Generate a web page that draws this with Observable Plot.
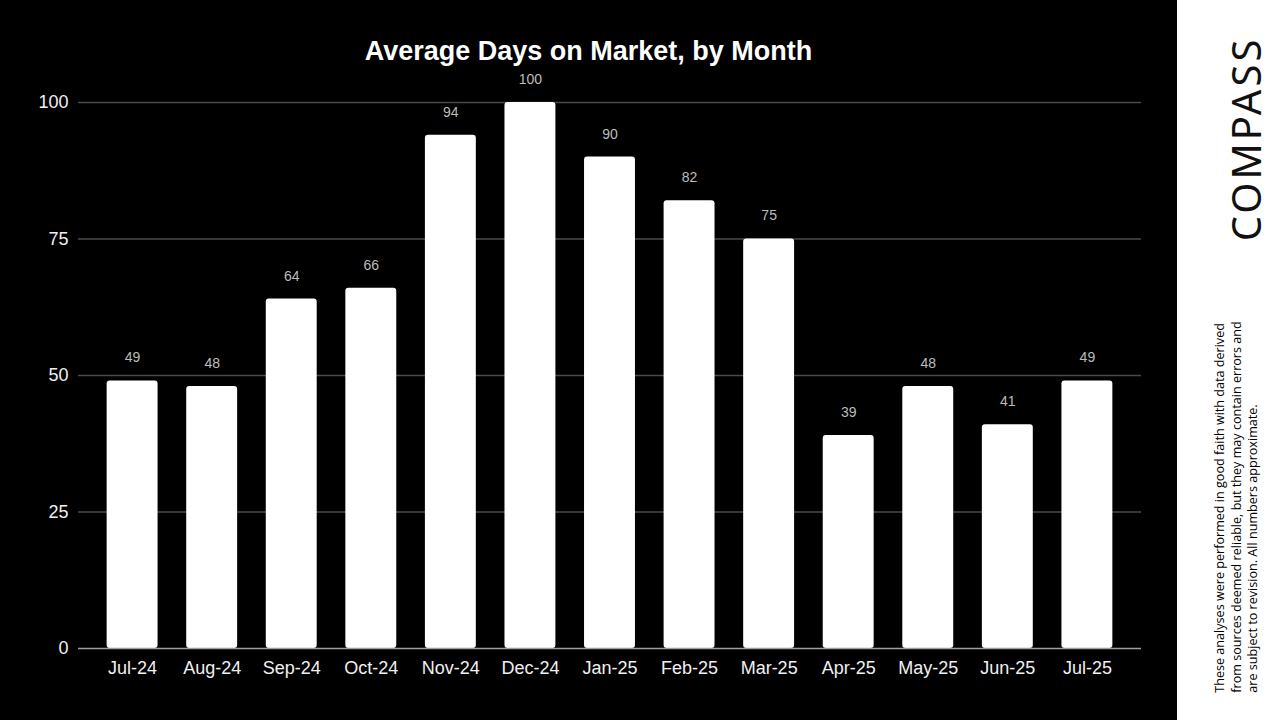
<!DOCTYPE html>
<html>
<head>
<meta charset="utf-8">
<script src="https://cdn.jsdelivr.net/npm/d3@7"></script>
<script src="https://cdn.jsdelivr.net/npm/@observablehq/plot@0.6"></script>
<style>
  html, body { margin: 0; padding: 0; background: #fff; }
  #wrap { position: relative; width: 1280px; height: 720px; overflow: hidden; }
  #left { position: absolute; left: 0; top: 0; width: 1177px; height: 720px; background: #000; }
  #title { position: absolute; left: 0; top: 36px; width: 1177px; text-align: center;
           font-family: "Liberation Sans", Arial, sans-serif; font-weight: bold; font-size: 27px;
           color: #fff; line-height: 30px; z-index: 2; }
  #chart { position: absolute; left: 0; top: 0; }
  #right { position: absolute; left: 1177px; top: 0; width: 103px; height: 720px; background: #fff; }
  #logo { position: absolute; left: 1246px; top: 139px; transform: translate(-50%, -50%) rotate(-90deg);
          font-family: "Noto Sans", sans-serif; font-weight: 400; font-size: 40px; letter-spacing: 3px;
          color: #111; white-space: nowrap; line-height: 1; }
  #disc { position: absolute; left: 1237px; top: 507px; transform: translate(-50%, -50%) rotate(-90deg);
          font-family: "Open Sans", sans-serif; font-size: 12.6px; color: #000; white-space: nowrap;
          line-height: 16.5px; }
</style>
</head>
<body>
<div id="wrap">
  <div id="left"></div>
  <div id="right"></div>
  <div id="chart"></div>
  <div id="title">Average Days on Market, by Month</div>
  <div id="logo">COMPASS</div>
  <div id="disc">These analyses were performed in good faith with data derived<br>from sources deemed reliable, but they may contain errors and<br>are subject to revision. All numbers approximate.</div>
</div>
<script>
const months = ["Jul-24","Aug-24","Sep-24","Oct-24","Nov-24","Dec-24","Jan-25","Feb-25","Mar-25","Apr-25","May-25","Jun-25","Jul-25"];
const days = [49, 48, 64, 66, 94, 100, 90, 82, 75, 39, 48, 41, 49];
const yTicks = [0, 25, 50, 75, 100];

const data = months.map((m, i) => ({month: m, days: days[i]}));

const chart = Plot.plot({
  width: 1177,
  height: 720,
  marginLeft: 78,
  marginRight: 36,
  marginTop: 102,
  marginBottom: 72,
  style: {background: "transparent", color: "#fff", fontFamily: "'Liberation Sans', Arial, sans-serif", fontSize: "18px"},
  x: {domain: months, padding: 0.36, round: false, label: null},
  y: {domain: [0, 100], label: null},
  marks: [
    Plot.ruleY(yTicks.filter(d => d > 0), {stroke: "#4a4a4a", strokeWidth: 1.5}),
    Plot.barY(data, {x: "month", y: "days", fill: "#fff", rx: 3}),
    Plot.ruleY([0], {stroke: "#a0a0a0", strokeWidth: 1.5}),
    Plot.text(data, {x: "month", y: "days", text: d => String(d.days), dy: -23, fill: "#bdbdbd", fontSize: 14}),
    Plot.axisY({ticks: yTicks, tickSize: 0, tickPadding: 10, fill: "#f0f0f0", fontSize: 18, label: null}),
    Plot.axisX({tickSize: 0, tickPadding: 13, fill: "#f0f0f0", fontSize: 18, label: null})
  ]
});
document.getElementById("chart").appendChild(chart);
</script>
</body>
</html>
